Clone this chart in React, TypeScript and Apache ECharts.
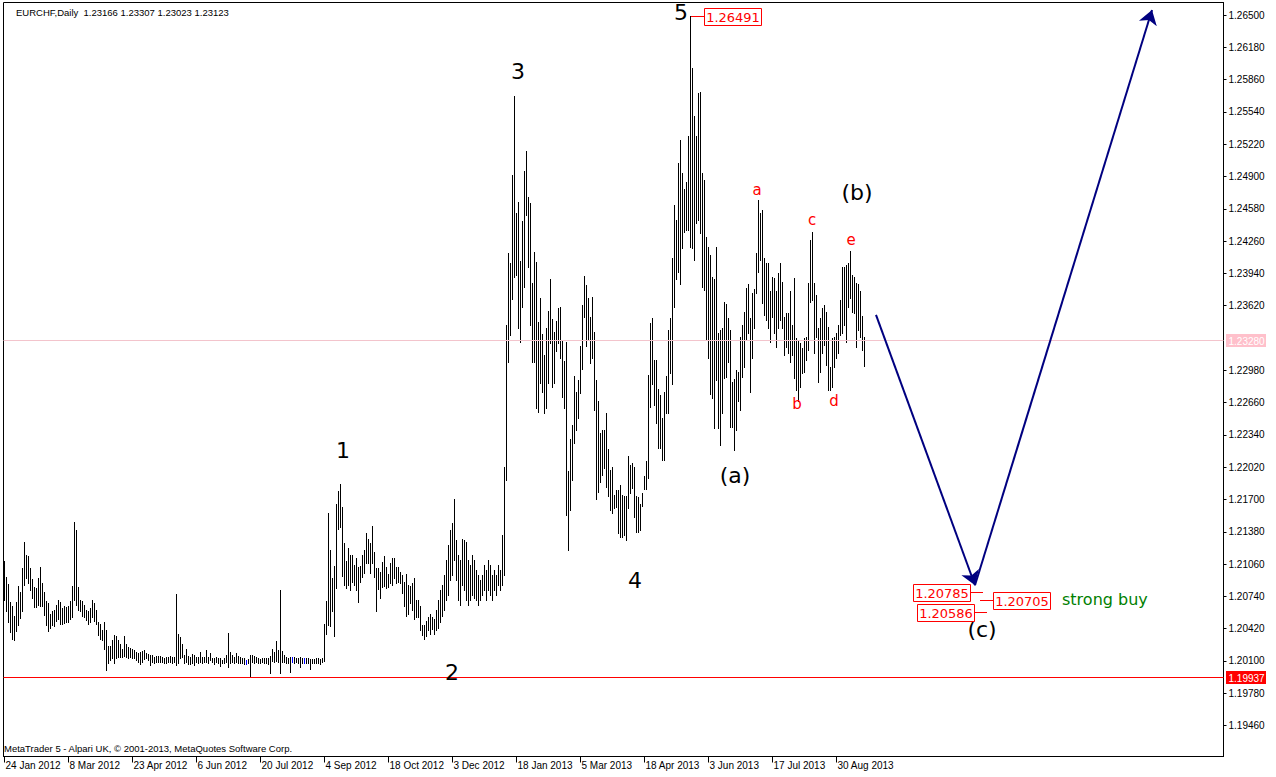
import React, { useEffect, useRef } from "react";
import * as echarts from "echarts";

// ---------- DATA ----------
const HIGH: number[] = [
  // 0-107
  1.2109, 1.2093, 1.2086, 1.2068, 1.2064, 1.2055, 1.2068, 1.2084, 1.2078, 1.2102,
  1.2128, 1.2115, 1.2114, 1.2102, 1.2091, 1.2083, 1.2082, 1.2092, 1.2103, 1.2087,
  1.2078, 1.2069, 1.2067, 1.2057, 1.2059, 1.2060, 1.2065, 1.2070, 1.2068, 1.2062,
  1.2064, 1.2063, 1.2064, 1.2069, 1.2084, 1.2148, 1.2140, 1.2083, 1.2070, 1.2069,
  1.2065, 1.2060, 1.2059, 1.2062, 1.2070, 1.2067, 1.2060, 1.2049, 1.2047, 1.2041,
  1.2049, 1.2041, 1.2025, 1.2025, 1.2031, 1.2036, 1.2035, 1.2031, 1.2027, 1.2022,
  1.2035, 1.2027, 1.2024, 1.2023, 1.2022, 1.2021, 1.2019, 1.2018, 1.2019, 1.2020,
  1.2021, 1.2018, 1.2017, 1.2016, 1.2016, 1.2014, 1.2015, 1.2015, 1.2015, 1.2014,
  1.2013, 1.2014, 1.2014, 1.2015, 1.2014, 1.2014, 1.2076, 1.2037, 1.2034, 1.2027,
  1.2016, 1.2022, 1.2015, 1.2014, 1.2017, 1.2016, 1.2014, 1.2014, 1.2019, 1.2014,
  1.2014, 1.2021, 1.2014, 1.2018, 1.2013, 1.2013, 1.2014, 1.2013,
  // 108-215
  1.2013, 1.2011, 1.2013, 1.2016, 1.2038, 1.2019, 1.2016, 1.2014, 1.2018, 1.2015,
  1.2014, 1.2013, 1.2013, 1.2011, 1.2012, 1.2016, 1.2016, 1.2015, 1.2014, 1.2013,
  1.2012, 1.2013, 1.2013, 1.2013, 1.2013, 1.2015, 1.2022, 1.2019, 1.2030, 1.2021,
  1.2080, 1.2020, 1.2016, 1.2014, 1.2013, 1.2014, 1.2014, 1.2014, 1.2013, 1.2013,
  1.2014, 1.2013, 1.2013, 1.2013, 1.2013, 1.2012, 1.2012, 1.2012, 1.2013, 1.2013,
  1.2012, 1.2013, 1.2047, 1.2069, 1.2157, 1.2120, 1.2092, 1.2104, 1.2166, 1.2178,
  1.2185, 1.2163, 1.2127, 1.2109, 1.2122, 1.2115, 1.2115, 1.2105, 1.2112, 1.2103,
  1.2104, 1.2115, 1.2120, 1.2137, 1.2131, 1.2127, 1.2144, 1.2118, 1.2102, 1.2102,
  1.2098, 1.2108, 1.2114, 1.2103, 1.2096, 1.2107, 1.2112, 1.2112, 1.2103, 1.2103,
  1.2098, 1.2095, 1.2088, 1.2096, 1.2085, 1.2084, 1.2087, 1.2092, 1.2070, 1.2070,
  1.2064, 1.2046, 1.2046, 1.2050, 1.2054, 1.2057, 1.2054, 1.2052,
  // 216-249
  1.2060, 1.2070, 1.2080, 1.2085, 1.2095, 1.2110, 1.2125, 1.2140, 1.2147, 1.2170,
  1.2130, 1.2115, 1.2110, 1.2131, 1.2130, 1.2128, 1.2110, 1.2105, 1.2115, 1.2110,
  1.2100, 1.2095, 1.2090, 1.2095, 1.2105, 1.2100, 1.2110, 1.2105, 1.2095, 1.2100,
  1.2095, 1.2105, 1.2100, 1.2135,
  // 250-322
  1.2202, 1.2343, 1.2414, 1.2404, 1.2492, 1.2570, 1.2454, 1.2465, 1.2406, 1.2446,
  1.2496, 1.2515, 1.2470, 1.2464, 1.2385, 1.2415, 1.2405, 1.2346, 1.2370, 1.2334,
  1.2313, 1.2340, 1.2357, 1.2388, 1.2349, 1.2336, 1.2347, 1.2360, 1.2361, 1.2328,
  1.2307, 1.2326, 1.2198, 1.2230, 1.2244, 1.2292, 1.2277, 1.2288, 1.2322, 1.2363,
  1.2391, 1.2383, 1.2370, 1.2351, 1.2371, 1.2336, 1.2288, 1.2268, 1.2236, 1.2239,
  1.2239, 1.2256, 1.2220, 1.2199, 1.2202, 1.2174, 1.2179, 1.2179, 1.2184, 1.2174,
  1.2173, 1.2173, 1.2213, 1.2204, 1.2206, 1.2202, 1.2173, 1.2172, 1.2166, 1.2176,
  1.2193, 1.2208, 1.2293,
  // 323-430
  1.2345, 1.2350, 1.2308, 1.2308, 1.2279, 1.2274, 1.2251, 1.2277, 1.2292, 1.2338,
  1.2350, 1.2409, 1.2462, 1.2447, 1.2503, 1.2526, 1.2494, 1.2478, 1.2485, 1.2530,
  1.26491, 1.2598, 1.2550, 1.2530, 1.2573, 1.2574, 1.2494, 1.2487, 1.2430, 1.2420,
  1.2412, 1.2390, 1.2388, 1.2420, 1.2335, 1.2338, 1.2340, 1.2366, 1.2364, 1.2350,
  1.2338, 1.2286, 1.2289, 1.2298, 1.2296, 1.2331, 1.2343, 1.2356, 1.2380, 1.2384,
  1.2350, 1.2375, 1.2379, 1.2414, 1.2467, 1.2454, 1.2457, 1.2409, 1.2404, 1.2404,
  1.2377, 1.2390, 1.2389, 1.2377, 1.2394, 1.2404, 1.2386, 1.2351, 1.2355, 1.2355,
  1.2377, 1.2343, 1.2389, 1.2330, 1.2328, 1.2325, 1.2320, 1.2330, 1.2331, 1.2385,
  1.2427, 1.2435, 1.2385, 1.2373, 1.2340, 1.2350, 1.2360, 1.2363, 1.2356, 1.2341,
  1.2301, 1.2330, 1.2331, 1.2335, 1.2343, 1.2368, 1.2400, 1.2400, 1.2402, 1.2404,
  1.2416, 1.2392, 1.2390, 1.2385, 1.2384, 1.2377, 1.2352, 1.23307,
];

const LOW: number[] = [
  // 0-107
  1.2070, 1.2059, 1.2049, 1.2039, 1.2032, 1.2031, 1.2040, 1.2046, 1.2053, 1.2059,
  1.2085, 1.2092, 1.2087, 1.2080, 1.2072, 1.2063, 1.2063, 1.2065, 1.2064, 1.2064,
  1.2056, 1.2046, 1.2040, 1.2043, 1.2046, 1.2045, 1.2050, 1.2052, 1.2047, 1.2047,
  1.2048, 1.2049, 1.2049, 1.2052, 1.2054, 1.2070, 1.2065, 1.2060, 1.2059, 1.2055,
  1.2054, 1.2051, 1.2047, 1.2049, 1.2054, 1.2050, 1.2047, 1.2036, 1.2032, 1.2031,
  1.2022, 1.2001, 1.2008, 1.2011, 1.2013, 1.2008, 1.2013, 1.2014, 1.2014, 1.2014,
  1.2015, 1.2014, 1.2013, 1.2014, 1.2013, 1.2013, 1.2011, 1.2009, 1.2007, 1.2009,
  1.2012, 1.2013, 1.2011, 1.2006, 1.2009, 1.2008, 1.2009, 1.2009, 1.2009, 1.2009,
  1.2008, 1.2008, 1.2009, 1.2009, 1.2008, 1.2009, 1.2006, 1.2008, 1.2013, 1.2014,
  1.2008, 1.2009, 1.2007, 1.2007, 1.2008, 1.2006, 1.2009, 1.2008, 1.2009, 1.2008,
  1.2009, 1.2009, 1.2008, 1.2011, 1.2009, 1.2007, 1.2009, 1.2008,
  // 108-215
  1.2005, 1.2008, 1.2008, 1.2009, 1.2004, 1.2008, 1.2009, 1.2008, 1.2009, 1.2008,
  1.2008, 1.2008, 1.2007, 1.2007, 1.2008, 1.1994, 1.2009, 1.2008, 1.2009, 1.2008,
  1.2008, 1.2009, 1.2008, 1.2008, 1.2007, 1.1998, 1.2010, 1.2009, 1.2010, 1.2009,
  1.1998, 1.2009, 1.2009, 1.2008, 1.2008, 1.1999, 1.2009, 1.2008, 1.2009, 1.2008,
  1.2004, 1.2008, 1.2008, 1.2008, 1.2008, 1.2002, 1.2008, 1.2008, 1.2008, 1.2008,
  1.2007, 1.2009, 1.2010, 1.2037, 1.2046, 1.2045, 1.2059, 1.2035, 1.2082, 1.2141,
  1.2143, 1.2094, 1.2085, 1.2082, 1.2085, 1.2080, 1.2088, 1.2085, 1.2080, 1.2068,
  1.2088, 1.2093, 1.2097, 1.2107, 1.2107, 1.2097, 1.2107, 1.2093, 1.2059, 1.2081,
  1.2072, 1.2083, 1.2084, 1.2082, 1.2083, 1.2087, 1.2085, 1.2092, 1.2087, 1.2088,
  1.2087, 1.2077, 1.2064, 1.2055, 1.2057, 1.2067, 1.2060, 1.2052, 1.2054, 1.2054,
  1.2041, 1.2036, 1.2032, 1.2035, 1.2041, 1.2037, 1.2042, 1.2037,
  // 216-249
  1.2041, 1.2043, 1.2049, 1.2055, 1.2060, 1.2070, 1.2075, 1.2090, 1.2095, 1.2110,
  1.2090, 1.2070, 1.2065, 1.2085, 1.2080, 1.2070, 1.2065, 1.2070, 1.2075, 1.2072,
  1.2070, 1.2065, 1.2070, 1.2075, 1.2080, 1.2070, 1.2080, 1.2075, 1.2070, 1.2080,
  1.2075, 1.2085, 1.2080, 1.2085,
  // 250-322
  1.2095, 1.2189, 1.2306, 1.2333, 1.2369, 1.2390, 1.2392, 1.2340, 1.2326, 1.2361,
  1.2381, 1.2452, 1.2400, 1.2343, 1.2306, 1.2306, 1.2261, 1.2257, 1.2285, 1.2277,
  1.2256, 1.2261, 1.2285, 1.2325, 1.2281, 1.2285, 1.2317, 1.2325, 1.2310, 1.2272,
  1.2261, 1.2155, 1.2120, 1.2160, 1.2189, 1.2226, 1.2239, 1.2251, 1.2276, 1.2299,
  1.2351, 1.2322, 1.2328, 1.2305, 1.2310, 1.2259, 1.2170, 1.2177, 1.2187, 1.2194,
  1.2201, 1.2182, 1.2173, 1.2160, 1.2157, 1.2162, 1.2163, 1.2137, 1.2133, 1.2133,
  1.2135, 1.2130, 1.2162, 1.2176, 1.2181, 1.2153, 1.2138, 1.2138, 1.2140, 1.2164,
  1.2180, 1.2180, 1.2191,
  // 323-430
  1.2262, 1.2284, 1.2264, 1.2246, 1.2221, 1.2221, 1.2209, 1.2209, 1.2256, 1.2256,
  1.2295, 1.2284, 1.2361, 1.2388, 1.2395, 1.2384, 1.2419, 1.2435, 1.2437, 1.2437,
  1.2420, 1.2419, 1.2407, 1.2444, 1.2447, 1.2434, 1.2381, 1.2378, 1.2328, 1.2310,
  1.2275, 1.2271, 1.2241, 1.2288, 1.2241, 1.2224, 1.2256, 1.2290, 1.2291, 1.2306,
  1.2242, 1.2242, 1.2219, 1.2239, 1.2268, 1.2259, 1.2291, 1.2301, 1.2328, 1.2335,
  1.2277, 1.2310, 1.2340, 1.2375, 1.2395, 1.2407, 1.2365, 1.2353, 1.2348, 1.2340,
  1.2326, 1.2351, 1.2335, 1.2321, 1.2340, 1.2348, 1.2340, 1.2313, 1.2321, 1.2315,
  1.2306, 1.2313, 1.2290, 1.2278, 1.2268, 1.2281, 1.2295, 1.2296, 1.2308, 1.2318,
  1.2366, 1.2368, 1.2315, 1.2331, 1.2286, 1.2296, 1.2315, 1.2323, 1.2303, 1.2278,
  1.2278, 1.2281, 1.2301, 1.2310, 1.2315, 1.2333, 1.2335, 1.2343, 1.2326, 1.2361,
  1.2370, 1.2356, 1.2355, 1.2321, 1.2338, 1.2331, 1.2318, 1.23023,
];

const BLUE_BARS = [121, 144, 150];

const HEADER_TEXT = "EURCHF,Daily  1.23166 1.23307 1.23023 1.23123";
const FOOTER_TEXT = "MetaTrader 5 - Alpari UK, © 2001-2013, MetaQuotes Software Corp.";

const PRICE_TICKS = [
  1.1946, 1.1978, 1.201, 1.2042, 1.2074, 1.2106, 1.2138, 1.217, 1.2202, 1.2234,
  1.2266, 1.2298, 1.2362, 1.2394, 1.2426, 1.2458, 1.249, 1.2522, 1.2554, 1.2586,
  1.2618, 1.265,
];
// horizontal price levels (bid line, support line)
const LEVEL_PRICES = [1.2328, 1.19937];
const LEVEL_LINE_COLORS = ["#f3c4cc", "#ff0000"];
const LEVEL_LABEL_BG = ["#ffc0cb", "#ff0000"];

const Y_MIN = 1.19153;
const Y_MAX = 1.26625;

const TOTAL_SLOTS = 610;
const DATE_LABEL_STEP = 32;
const FIRST_DATE = [2012, 0, 24];
const HOLIDAYS = ["2012-12-25", "2013-01-01"];
const MONTHS = ["Jan", "Feb", "Mar", "Apr", "May", "Jun", "Jul", "Aug", "Sep", "Oct", "Nov", "Dec"];

const WAVE_LABELS = [
  { text: "1", bar: 169.25, price: 1.2219, color: "#000000", size: 22 },
  { text: "2", bar: 223.75, price: 1.1999, color: "#000000", size: 22 },
  { text: "3", bar: 256.75, price: 1.2594, color: "#000000", size: 22 },
  { text: "4", bar: 315.25, price: 1.209, color: "#000000", size: 22 },
  { text: "5", bar: 338.25, price: 1.2653, color: "#000000", size: 22 },
  { text: "(a)", bar: 365.25, price: 1.2194, color: "#000000", size: 22 },
  { text: "(b)", bar: 426.25, price: 1.2474, color: "#000000", size: 22 },
  { text: "(c)", bar: 488.75, price: 1.2041, color: "#000000", size: 22 },
  { text: "a", bar: 376.25, price: 1.2477, color: "#ff0000", size: 15 },
  { text: "b", bar: 396.25, price: 1.2265, color: "#ff0000", size: 15 },
  { text: "c", bar: 403.75, price: 1.2447, color: "#ff0000", size: 15 },
  { text: "d", bar: 414.75, price: 1.2268, color: "#ff0000", size: 15 },
  { text: "e", bar: 423.25, price: 1.2427, color: "#ff0000", size: 15 },
  { text: "strong buy", bar: 528.75, price: 1.2071, color: "#008000", size: 16, align: "left" },
];

const PRICE_TAGS = [
  { value: 1.26491, bar: 343, side: 1 },
  { value: 1.20785, bar: 489.25, side: -1 },
  { value: 1.20705, bar: 487.75, side: 1 },
  { value: 1.20586, bar: 491.25, side: -1 },
];

const FORECAST_PATH: [number, number][] = [
  [435.75, 1.2353],
  [485.25, 1.2085],
  [573.75, 1.2655],
];

// ---------- HELPERS ----------
function buildDates(count: number): string[] {
  const out: string[] = [];
  const d = new Date(Date.UTC(FIRST_DATE[0], FIRST_DATE[1], FIRST_DATE[2]));
  while (out.length < count) {
    const wd = d.getUTCDay();
    const iso = d.toISOString().slice(0, 10);
    if (wd !== 0 && wd !== 6 && !HOLIDAYS.includes(iso)) {
      out.push(`${d.getUTCDate()} ${MONTHS[d.getUTCMonth()]} ${d.getUTCFullYear()}`);
    }
    d.setUTCDate(d.getUTCDate() + 1);
  }
  return out;
}

const DATES = buildDates(TOTAL_SLOTS);
const DATE_TICKS = DATES.map((_, i) => i).filter((i) => i % DATE_LABEL_STEP === 0 && i < HIGH.length);

const AXIS_FONT = '"Liberation Sans", Arial, sans-serif';
const LABEL_FONT = '"DejaVu Sans", Verdana, sans-serif';

function buildOption(): any {
  const barData = HIGH.map((h, i) => [i, h, LOW[i]]);
  return {
    animation: false,
    backgroundColor: "#ffffff",
    grid: {
      left: 3.5,
      top: 2.5,
      width: 1220,
      height: 754,
      show: true,
      borderColor: "#000000",
      borderWidth: 1,
      backgroundColor: "#ffffff",
    },
    xAxis: {
      type: "value",
      min: -0.5,
      max: TOTAL_SLOTS - 0.5,
      position: "bottom",
      axisLine: { show: true, onZero: false, lineStyle: { color: "#000000", width: 1 } },
      axisTick: { show: true, length: 6, lineStyle: { color: "#000000" }, customValues: DATE_TICKS },
      axisLabel: {
        customValues: DATE_TICKS,
        formatter: (v: number) => DATES[Math.round(v)] ?? "",
        align: "left",
        padding: [0, 0, 0, 1],
        margin: 4,
        color: "#000000",
        fontSize: 10,
        fontFamily: AXIS_FONT,
      },
      splitLine: { show: false },
    },
    yAxis: {
      type: "value",
      position: "right",
      min: Y_MIN,
      max: Y_MAX,
      axisLine: { show: true, onZero: false, lineStyle: { color: "#000000", width: 1 } },
      axisTick: { show: true, length: 3, lineStyle: { color: "#000000" }, customValues: PRICE_TICKS },
      axisLabel: {
        customValues: PRICE_TICKS,
        formatter: (v: number) => v.toFixed(5),
        margin: 5,
        color: "#000000",
        fontSize: 10,
        fontFamily: AXIS_FONT,
      },
      splitLine: { show: false },
    },
    graphic: [
      {
        type: "text",
        x: 16,
        y: 12,
        silent: true,
        style: { text: HEADER_TEXT, fill: "#000000", font: `9.5px ${AXIS_FONT}`, verticalAlign: "middle" },
      },
      {
        type: "text",
        x: 4,
        y: 748,
        silent: true,
        style: { text: FOOTER_TEXT, fill: "#000000", font: `9.5px ${AXIS_FONT}`, verticalAlign: "middle" },
      },
    ],
    series: [
      {
        type: "custom",
        name: "bars",
        coordinateSystem: "cartesian2d",
        silent: true,
        clip: false,
        z: 2,
        data: barData,
        encode: { x: 0, y: [1, 2] },
        renderItem: (_params: any, api: any) => {
          const i = api.value(0);
          const top = api.coord([i, api.value(1)]);
          const bot = api.coord([i, api.value(2)]);
          const x = Math.floor(top[0]) + 0.5;
          const y1 = Math.round(top[1]);
          const y2 = Math.max(Math.round(bot[1]), y1 + 1) + 1;
          return {
            type: "line",
            shape: { x1: x, y1, x2: x, y2 },
            style: { stroke: BLUE_BARS.includes(i) ? "#0000ff" : "#000000", lineWidth: 1 },
          };
        },
      },
      {
        type: "custom",
        name: "levels",
        coordinateSystem: "cartesian2d",
        silent: true,
        clip: false,
        z: 5,
        data: LEVEL_PRICES.map((p, k) => [0, p, k]),
        encode: { x: 0, y: 1 },
        renderItem: (params: any, api: any) => {
          const k = api.value(2);
          const price = api.value(1);
          const cs = params.coordSys;
          const y = Math.round(api.coord([0, price])[1]);
          const right = cs.x + cs.width;
          return {
            type: "group",
            children: [
              {
                type: "rect",
                shape: { x: cs.x, y: y, width: cs.width, height: 1 },
                style: { fill: LEVEL_LINE_COLORS[k], stroke: null },
              },
              {
                type: "rect",
                shape: { x: right + 2.5, y: y - 6, width: 40, height: 13 },
                style: { fill: LEVEL_LABEL_BG[k], stroke: null },
              },
              {
                type: "text",
                x: right + 5,
                y: y + 1,
                style: {
                  text: Number(price).toFixed(5),
                  fill: "#ffffff",
                  font: `10px ${AXIS_FONT}`,
                  align: "left",
                  verticalAlign: "middle",
                },
              },
            ],
          };
        },
      },
      {
        type: "lines",
        coordinateSystem: "cartesian2d",
        silent: true,
        z: 6,
        symbol: ["none", "arrow"],
        symbolSize: 14,
        lineStyle: { color: "#000080", width: 2, opacity: 1 },
        data: [
          { coords: [FORECAST_PATH[0], FORECAST_PATH[1]] },
          { coords: [FORECAST_PATH[1], FORECAST_PATH[2]] },
        ],
      },
      {
        type: "custom",
        name: "waveLabels",
        coordinateSystem: "cartesian2d",
        silent: true,
        clip: false,
        z: 7,
        data: WAVE_LABELS.map((l, k) => [l.bar, l.price, k]),
        encode: { x: 0, y: 1 },
        renderItem: (_params: any, api: any) => {
          const l = WAVE_LABELS[api.value(2)];
          const p = api.coord([api.value(0), api.value(1)]);
          return {
            type: "text",
            x: p[0],
            y: p[1],
            style: {
              text: l.text,
              fill: l.color,
              font: `${l.size}px ${LABEL_FONT}`,
              align: (l as any).align || "center",
              verticalAlign: "middle",
            },
          };
        },
      },
      {
        type: "custom",
        name: "priceTags",
        coordinateSystem: "cartesian2d",
        silent: true,
        clip: false,
        z: 8,
        data: PRICE_TAGS.map((t, k) => [t.bar, t.value, k]),
        encode: { x: 0, y: 1 },
        renderItem: (_params: any, api: any) => {
          const t = PRICE_TAGS[api.value(2)];
          const p = api.coord([api.value(0), api.value(1)]);
          const px = Math.round(p[0]);
          const py = Math.round(p[1]) + 0.5;
          const lineLen = 13;
          const w = 57;
          const h = 17;
          const boxX = t.side > 0 ? px + lineLen : px - lineLen - w;
          return {
            type: "group",
            children: [
              {
                type: "line",
                shape: { x1: px, y1: py, x2: px + t.side * lineLen, y2: py },
                style: { stroke: "#ff0000", lineWidth: 1 },
              },
              {
                type: "rect",
                shape: { x: boxX + 0.5, y: Math.round(py - h / 2) + 0.5, width: w, height: h },
                style: { fill: "#ffffff", stroke: "#ff0000", lineWidth: 1 },
              },
              {
                type: "text",
                x: boxX + w / 2 + 0.5,
                y: py + 1,
                style: {
                  text: t.value.toFixed(5),
                  fill: "#ff0000",
                  font: `13px ${LABEL_FONT}`,
                  align: "center",
                  verticalAlign: "middle",
                },
              },
            ],
          };
        },
      },
    ],
  };
}

export default function App() {
  const ref = useRef<HTMLDivElement>(null);
  useEffect(() => {
    document.body.style.margin = "0";
    const chart = echarts.init(ref.current!, null, { renderer: "svg", width: 1276, height: 777 });
    chart.setOption(buildOption());
    return () => {
      chart.dispose();
    };
  }, []);
  return <div ref={ref} style={{ width: 1276, height: 777, background: "#ffffff" }} />;
}
